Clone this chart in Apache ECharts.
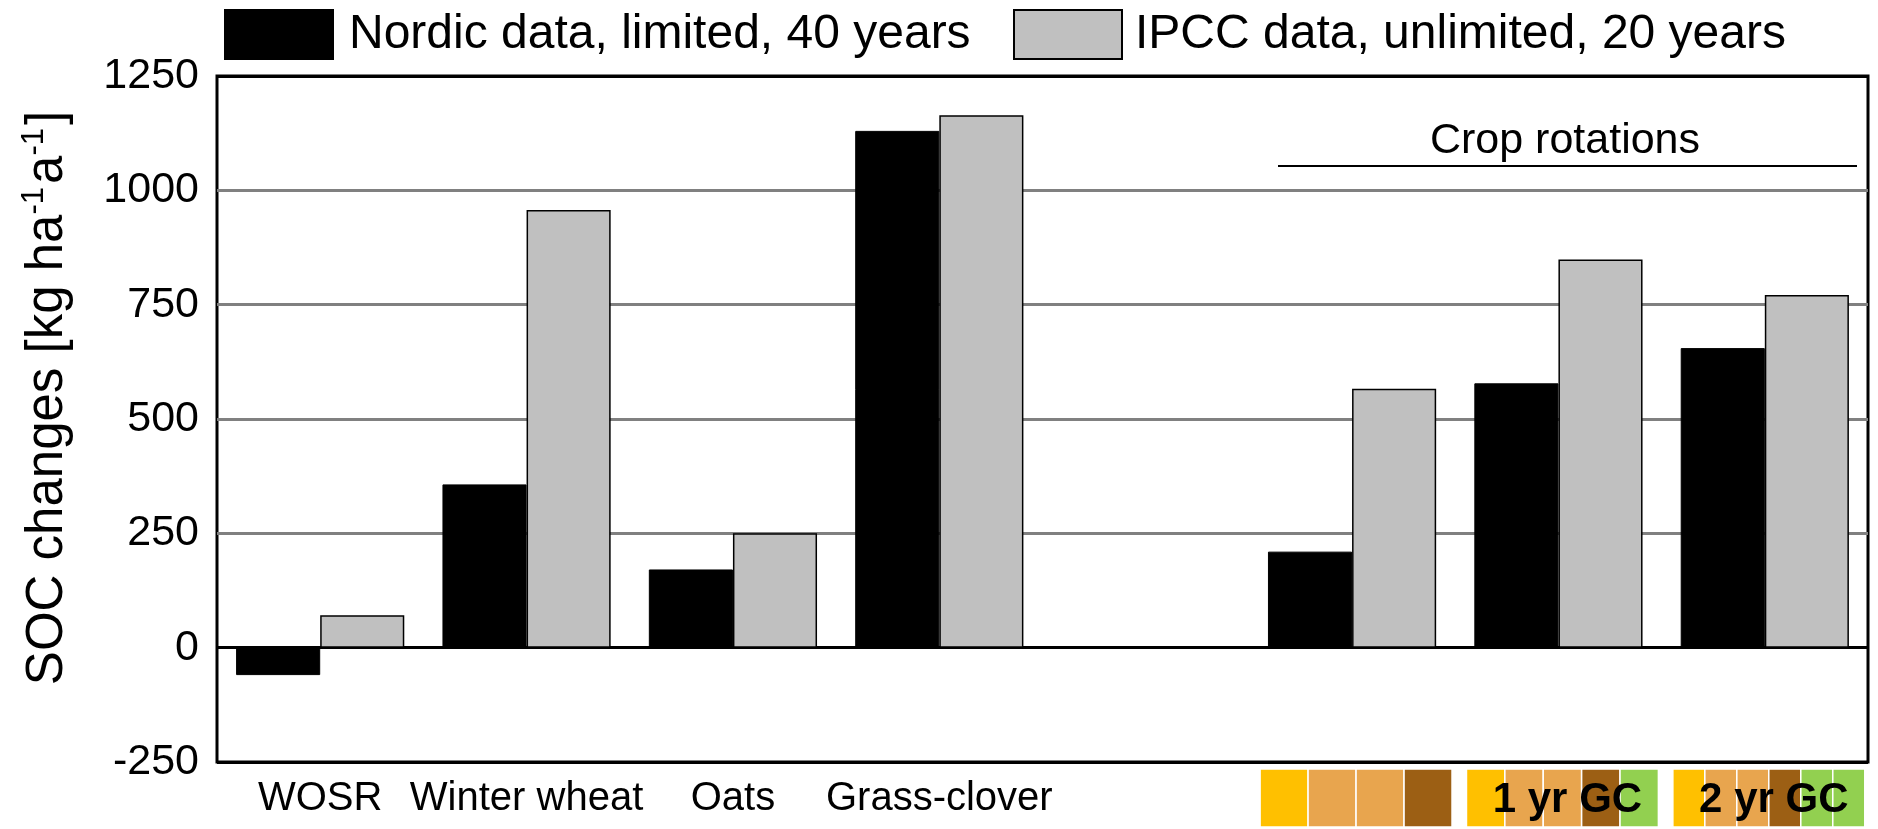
<!DOCTYPE html>
<html>
<head>
<meta charset="utf-8">
<script src="https://cdn.jsdelivr.net/npm/echarts/dist/echarts.min.js"></script>
<style>
html,body{margin:0;padding:0;background:#fff;}
#chart{width:1878px;height:829px;}
</style>
</head>
<body>
<div id="chart"></div>
<script>
// ---- data ----
const categories = ['WOSR', 'Winter wheat', 'Oats', 'Grass-clover', '', '', '', ''];
const seriesNames = ['Nordic data, limited, 40 years', 'IPCC data, unlimited, 20 years'];
const nordic = [-60, 357, 171, 1130, null, 210, 578, 655];
const ipcc = [71, 957, 250, 1164, null, 566, 849, 771];
const yTicks = [-250, 0, 250, 500, 750, 1000, 1250];
const rotationTitle = 'Crop rotations';
const rotationCategoryIndex = [5, 6, 7];
const rotationLabels = ['', '1 yr GC', '2 yr GC'];
const rotationCrops = [
  ['WOSR', 'Cereal', 'Cereal', 'Oats'],
  ['WOSR', 'Cereal', 'Cereal', 'Oats', 'GC'],
  ['WOSR', 'Cereal', 'Cereal', 'Oats', 'GC', 'GC']
];
const cropColors = { WOSR: '#FFC000', Cereal: '#E8A54E', Oats: '#9C5F14', GC: '#92D050' };
const yTitle = 'SOC changes [kg ha{sup|-1}a{sup|-1}]';

// ---- chart ----
const FONT = "'Liberation Sans', Arial, sans-serif";
const chart = echarts.init(document.getElementById('chart'), null, { renderer: 'canvas' });

const option = {
  animation: false,
  backgroundColor: '#fff',
  textStyle: { fontFamily: FONT, color: '#000' },
  grid: {
    left: 217, right: 10, top: 76, bottom: 67,
    show: true, borderColor: '#000', borderWidth: 3, backgroundColor: 'transparent'
  },
  legend: [
    {
      data: [seriesNames[0]], left: 224, top: 9, padding: 0,
      icon: 'rect', itemWidth: 108, itemHeight: 49,
      textStyle: { fontSize: 48, color: '#000', fontFamily: FONT, padding: [0, 0, 0, 11] }
    },
    {
      data: [seriesNames[1]], left: 1013, top: 9, padding: 0,
      icon: 'rect', itemWidth: 108, itemHeight: 49,
      textStyle: { fontSize: 48, color: '#000', fontFamily: FONT, padding: [0, 0, 0, 8] }
    }
  ],
  xAxis: {
    type: 'category',
    data: categories,
    axisLine: { show: false },
    axisTick: { show: false },
    axisLabel: { interval: 0, fontSize: 40, color: '#000', margin: 17, fontFamily: FONT },
    splitLine: { show: false }
  },
  yAxis: {
    type: 'value',
    min: yTicks[0], max: yTicks[yTicks.length - 1], interval: 250,
    axisLine: { show: false },
    axisTick: { show: false },
    axisLabel: { fontSize: 43, color: '#000', margin: 18, fontFamily: FONT,
      formatter: function (v) { return String(v); } },
    splitLine: {
      show: true,
      lineStyle: { color: ['#000', '#000', '#808080', '#808080', '#808080', '#808080', '#000'], width: 3 }
    }
  },
  series: [
    {
      name: seriesNames[0], type: 'bar', data: nordic,
      barGap: '0%', barCategoryGap: '18.5%',
      itemStyle: { color: '#000', borderColor: '#000', borderWidth: 1 }
    },
    {
      name: seriesNames[1], type: 'bar', data: ipcc,
      barGap: '0%', barCategoryGap: '18.5%',
      itemStyle: { color: '#C0C0C0', borderColor: '#000', borderWidth: 1.5 }
    }
  ]
};
chart.setOption(option);

// ---- annotations ----
const graphics = [];
graphics.push({
  type: 'text', x: 48, y: 398, rotation: Math.PI / 2,
  style: {
    text: yTitle, fontSize: 51, fontFamily: FONT, fill: '#000',
    align: 'center', verticalAlign: 'middle', lineHeight: 58,
    rich: { sup: { fontSize: 31, fontFamily: FONT, fill: '#000', verticalAlign: 'top', lineHeight: 58, padding: [0, 3, 0, 0] } }
  }
});
graphics.push({
  type: 'text', x: 1565, y: 141,
  style: { text: rotationTitle, fontSize: 43, fontFamily: FONT, fill: '#000', align: 'center', verticalAlign: 'middle' }
});
graphics.push({
  type: 'line', shape: { x1: 1278, y1: 166, x2: 1857, y2: 166 },
  style: { stroke: '#000', lineWidth: 2 }
});

const c0 = chart.convertToPixel({ xAxisIndex: 0 }, 0);
const c1 = chart.convertToPixel({ xAxisIndex: 0 }, 1);
const cw = c1 - c0;
rotationCategoryIndex.forEach(function (ci, r) {
  const center = chart.convertToPixel({ xAxisIndex: 0 }, ci) + 4;
  const gw = cw * 0.93;
  const crops = rotationCrops[r];
  const bw = gw / crops.length;
  const x0 = center - gw / 2;
  crops.forEach(function (crop, k) {
    graphics.push({
      type: 'rect',
      shape: { x: x0 + k * bw, y: 769, width: bw, height: 58 },
      style: { fill: cropColors[crop], stroke: '#fff', lineWidth: 1.5 }
    });
  });
  if (rotationLabels[r]) {
    graphics.push({
      type: 'text', x: center + 5, y: 800, z: 10,
      style: { text: rotationLabels[r], fontSize: 42, fontWeight: 'bold', fontFamily: FONT, fill: '#000', align: 'center', verticalAlign: 'middle' }
    });
  }
});
chart.setOption({ graphic: graphics });
</script>
</body>
</html>
